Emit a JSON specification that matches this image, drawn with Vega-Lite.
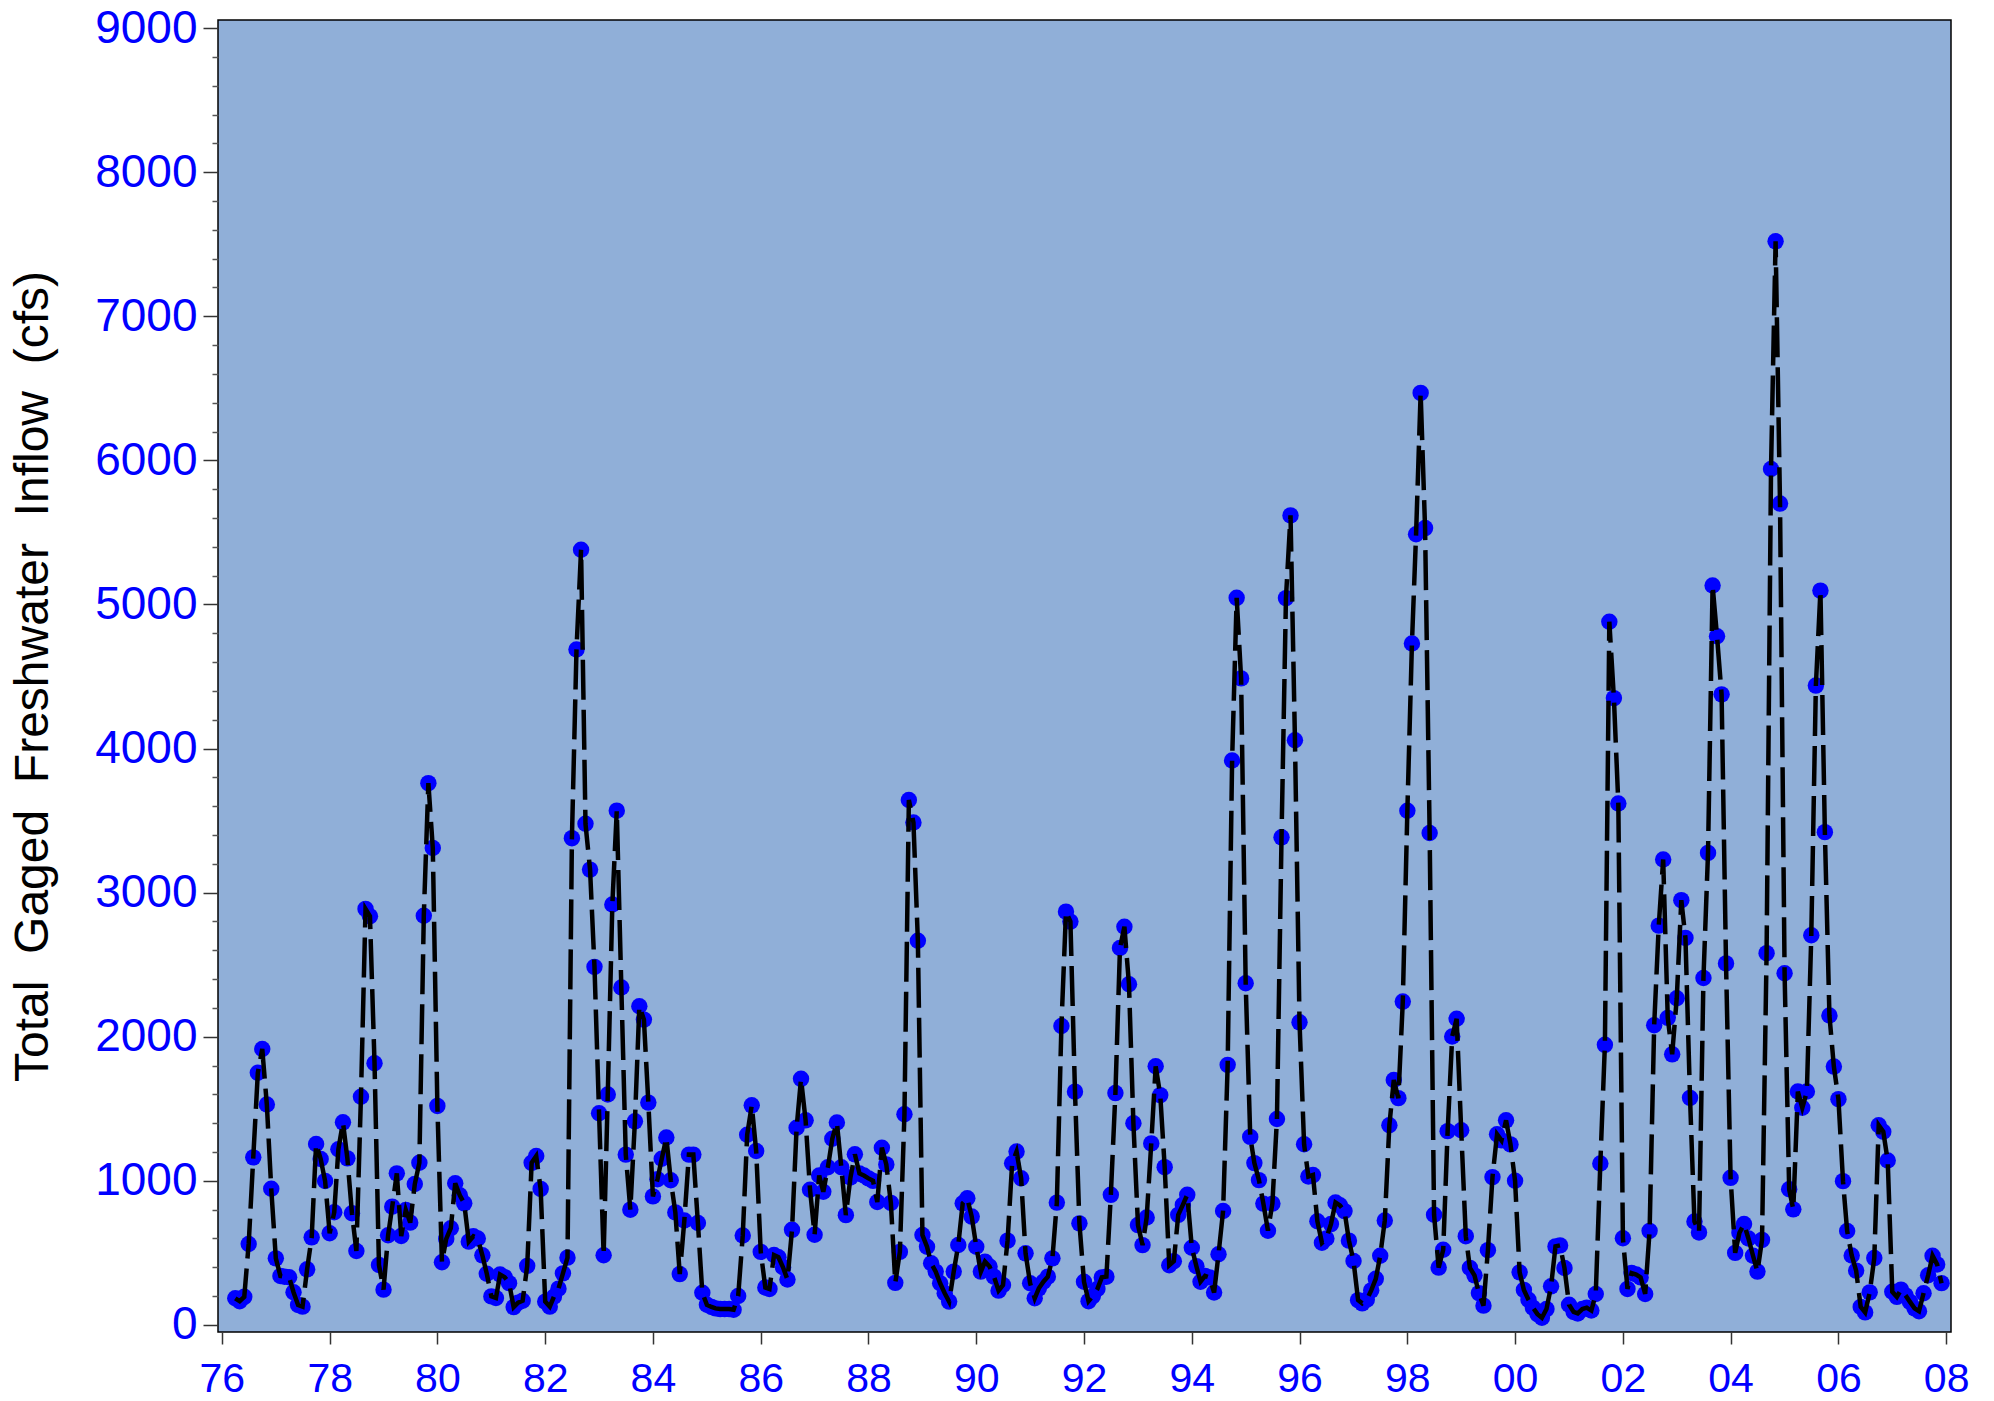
{
"$schema": "https://vega.github.io/schema/vega-lite/v6.json",
"width": 1733, "height": 1312,
"autosize": "none",
"padding": {"left": 218, "top": 20, "right": 43, "bottom": 69},
"background": "white",
"config": {
 "view": {"fill": "#90AFD8", "stroke": "#000000", "strokeWidth": 1.5},
 "axis": {"grid": false, "domain": false, "labelFont": "Liberation Sans", "titleFont": "Liberation Sans"}
},
"data": {"values": [
{"d":"1976-04","v":185},{"d":"1976-05","v":165},{"d":"1976-06","v":195},{"d":"1976-07","v":562},{"d":"1976-08","v":1163},{"d":"1976-09","v":1750},{"d":"1976-10","v":1915},{"d":"1976-11","v":1530},{"d":"1976-12","v":945},
{"d":"1977-01","v":462},{"d":"1977-02","v":340},{"d":"1977-03","v":335},{"d":"1977-04","v":331},{"d":"1977-05","v":227},{"d":"1977-06","v":139},{"d":"1977-07","v":127},{"d":"1977-08","v":386},{"d":"1977-09","v":608},{"d":"1977-10","v":1256},{"d":"1977-11","v":1152},{"d":"1977-12","v":999},
{"d":"1978-01","v":636},{"d":"1978-02","v":782},{"d":"1978-03","v":1219},{"d":"1978-04","v":1406},{"d":"1978-05","v":1156},{"d":"1978-06","v":775},{"d":"1978-07","v":513},{"d":"1978-08","v":1584},{"d":"1978-09","v":2887},{"d":"1978-10","v":2836},{"d":"1978-11","v":1816},{"d":"1978-12","v":416},
{"d":"1979-01","v":245},{"d":"1979-02","v":622},{"d":"1979-03","v":821},{"d":"1979-04","v":1052},{"d":"1979-05","v":617},{"d":"1979-06","v":798},{"d":"1979-07","v":710},{"d":"1979-08","v":978},{"d":"1979-09","v":1126},{"d":"1979-10","v":2840},{"d":"1979-11","v":3760},{"d":"1979-12","v":3310},
{"d":"1980-01","v":1520},{"d":"1980-02","v":435},{"d":"1980-03","v":597},{"d":"1980-04","v":671},{"d":"1980-05","v":983},{"d":"1980-06","v":900},{"d":"1980-07","v":844},{"d":"1980-08","v":578},{"d":"1980-09","v":615},{"d":"1980-10","v":600},{"d":"1980-11","v":483},{"d":"1980-12","v":355},
{"d":"1981-01","v":198},{"d":"1981-02","v":187},{"d":"1981-03","v":350},{"d":"1981-04","v":332},{"d":"1981-05","v":290},{"d":"1981-06","v":124},{"d":"1981-07","v":155},{"d":"1981-08","v":168},{"d":"1981-09","v":410},{"d":"1981-10","v":1125},{"d":"1981-11","v":1172},{"d":"1981-12","v":944},
{"d":"1982-01","v":162},{"d":"1982-02","v":127},{"d":"1982-03","v":196},{"d":"1982-04","v":252},{"d":"1982-05","v":358},{"d":"1982-06","v":467},{"d":"1982-07","v":3378},{"d":"1982-08","v":4687},{"d":"1982-09","v":5380},{"d":"1982-10","v":3478},{"d":"1982-11","v":3160},{"d":"1982-12","v":2485},
{"d":"1983-01","v":1469},{"d":"1983-02","v":484},{"d":"1983-03","v":1599},{"d":"1983-04","v":2918},{"d":"1983-05","v":3569},{"d":"1983-06","v":2342},{"d":"1983-07","v":1182},{"d":"1983-08","v":800},{"d":"1983-09","v":1413},{"d":"1983-10","v":2212},{"d":"1983-11","v":2119},{"d":"1983-12","v":1543},
{"d":"1984-01","v":892},{"d":"1984-02","v":1011},{"d":"1984-03","v":1153},{"d":"1984-04","v":1301},{"d":"1984-05","v":1004},{"d":"1984-06","v":781},{"d":"1984-07","v":353},{"d":"1984-08","v":725},{"d":"1984-09","v":1182},{"d":"1984-10","v":1182},{"d":"1984-11","v":707},{"d":"1984-12","v":223},
{"d":"1985-01","v":140},{"d":"1985-02","v":125},{"d":"1985-03","v":115},{"d":"1985-04","v":110},{"d":"1985-05","v":110},{"d":"1985-06","v":110},{"d":"1985-07","v":105},{"d":"1985-08","v":201},{"d":"1985-09","v":621},{"d":"1985-10","v":1320},{"d":"1985-11","v":1524},{"d":"1985-12","v":1207},
{"d":"1986-01","v":507},{"d":"1986-02","v":260},{"d":"1986-03","v":250},{"d":"1986-04","v":485},{"d":"1986-05","v":470},{"d":"1986-06","v":400},{"d":"1986-07","v":315},{"d":"1986-08","v":660},{"d":"1986-09","v":1368},{"d":"1986-10","v":1708},{"d":"1986-11","v":1420},{"d":"1986-12","v":938},
{"d":"1987-01","v":626},{"d":"1987-02","v":1037},{"d":"1987-03","v":924},{"d":"1987-04","v":1094},{"d":"1987-05","v":1292},{"d":"1987-06","v":1405},{"d":"1987-07","v":1094},{"d":"1987-08","v":762},{"d":"1987-09","v":1023},{"d":"1987-10","v":1184},{"d":"1987-11","v":1051},{"d":"1987-12","v":1037},
{"d":"1988-01","v":1017},{"d":"1988-02","v":1000},{"d":"1988-03","v":853},{"d":"1988-04","v":1230},{"d":"1988-05","v":1114},{"d":"1988-06","v":847},{"d":"1988-07","v":292},{"d":"1988-08","v":507},{"d":"1988-09","v":1462},{"d":"1988-10","v":3643},{"d":"1988-11","v":3487},{"d":"1988-12","v":2666},
{"d":"1989-01","v":624},{"d":"1989-02","v":543},{"d":"1989-03","v":428},{"d":"1989-04","v":370},{"d":"1989-05","v":289},{"d":"1989-06","v":220},{"d":"1989-07","v":162},{"d":"1989-08","v":370},{"d":"1989-09","v":555},{"d":"1989-10","v":844},{"d":"1989-11","v":879},{"d":"1989-12","v":752},
{"d":"1990-01","v":543},{"d":"1990-02","v":370},{"d":"1990-03","v":439},{"d":"1990-04","v":405},{"d":"1990-05","v":335},{"d":"1990-06","v":238},{"d":"1990-07","v":277},{"d":"1990-08","v":585},{"d":"1990-09","v":1122},{"d":"1990-10","v":1203},{"d":"1990-11","v":1018},{"d":"1990-12","v":497},
{"d":"1991-01","v":289},{"d":"1991-02","v":185},{"d":"1991-03","v":254},{"d":"1991-04","v":300},{"d":"1991-05","v":335},{"d":"1991-06","v":462},{"d":"1991-07","v":849},{"d":"1991-08","v":2075},{"d":"1991-09","v":2868},{"d":"1991-10","v":2799},{"d":"1991-11","v":1619},{"d":"1991-12","v":705},
{"d":"1992-01","v":300},{"d":"1992-02","v":165},{"d":"1992-03","v":200},{"d":"1992-04","v":250},{"d":"1992-05","v":330},{"d":"1992-06","v":335},{"d":"1992-07","v":903},{"d":"1992-08","v":1609},{"d":"1992-09","v":2616},{"d":"1992-10","v":2763},{"d":"1992-11","v":2364},{"d":"1992-12","v":1400},
{"d":"1993-01","v":693},{"d":"1993-02","v":554},{"d":"1993-03","v":746},{"d":"1993-04","v":1260},{"d":"1993-05","v":1795},{"d":"1993-06","v":1595},{"d":"1993-07","v":1095},{"d":"1993-08","v":414},{"d":"1993-09","v":442},{"d":"1993-10","v":764},{"d":"1993-11","v":833},{"d":"1993-12","v":903},
{"d":"1994-01","v":536},{"d":"1994-02","v":407},{"d":"1994-03","v":300},{"d":"1994-04","v":340},{"d":"1994-05","v":330},{"d":"1994-06","v":225},{"d":"1994-07","v":491},{"d":"1994-08","v":791},{"d":"1994-09","v":1805},{"d":"1994-10","v":3917},{"d":"1994-11","v":5046},{"d":"1994-12","v":4487},
{"d":"1995-01","v":2371},{"d":"1995-02","v":1305},{"d":"1995-03","v":1123},{"d":"1995-04","v":1005},{"d":"1995-05","v":842},{"d":"1995-06","v":654},{"d":"1995-07","v":842},{"d":"1995-08","v":1429},{"d":"1995-09","v":3384},{"d":"1995-10","v":5044},{"d":"1995-11","v":5618},{"d":"1995-12","v":4058},
{"d":"1996-01","v":2100},{"d":"1996-02","v":1254},{"d":"1996-03","v":1030},{"d":"1996-04","v":1040},{"d":"1996-05","v":720},{"d":"1996-06","v":570},{"d":"1996-07","v":600},{"d":"1996-08","v":700},{"d":"1996-09","v":850},{"d":"1996-10","v":830},{"d":"1996-11","v":790},{"d":"1996-12","v":585},
{"d":"1997-01","v":444},{"d":"1997-02","v":172},{"d":"1997-03","v":150},{"d":"1997-04","v":175},{"d":"1997-05","v":240},{"d":"1997-06","v":320},{"d":"1997-07","v":480},{"d":"1997-08","v":725},{"d":"1997-09","v":1386},{"d":"1997-10","v":1700},{"d":"1997-11","v":1574},{"d":"1997-12","v":2244},
{"d":"1998-01","v":3568},{"d":"1998-02","v":4729},{"d":"1998-03","v":5487},{"d":"1998-04","v":6468},{"d":"1998-05","v":5530},{"d":"1998-06","v":3414},{"d":"1998-07","v":765},{"d":"1998-08","v":398},{"d":"1998-09","v":522},{"d":"1998-10","v":1345},{"d":"1998-11","v":2002},{"d":"1998-12","v":2125},
{"d":"1999-01","v":1351},{"d":"1999-02","v":616},{"d":"1999-03","v":396},{"d":"1999-04","v":344},{"d":"1999-05","v":221},{"d":"1999-06","v":134},{"d":"1999-07","v":519},{"d":"1999-08","v":1026},{"d":"1999-09","v":1323},{"d":"1999-10","v":1281},{"d":"1999-11","v":1420},{"d":"1999-12","v":1253},
{"d":"2000-01","v":1001},{"d":"2000-02","v":365},{"d":"2000-03","v":243},{"d":"2000-04","v":175},{"d":"2000-05","v":120},{"d":"2000-06","v":75},{"d":"2000-07","v":50},{"d":"2000-08","v":110},{"d":"2000-09","v":268},{"d":"2000-10","v":545},{"d":"2000-11","v":552},{"d":"2000-12","v":395},
{"d":"2001-01","v":140},{"d":"2001-02","v":90},{"d":"2001-03","v":80},{"d":"2001-04","v":110},{"d":"2001-05","v":120},{"d":"2001-06","v":100},{"d":"2001-07","v":215},{"d":"2001-08","v":1120},{"d":"2001-09","v":1944},{"d":"2001-10","v":4880},{"d":"2001-11","v":4350},{"d":"2001-12","v":3619},
{"d":"2002-01","v":602},{"d":"2002-02","v":250},{"d":"2002-03","v":360},{"d":"2002-04","v":350},{"d":"2002-05","v":330},{"d":"2002-06","v":215},{"d":"2002-07","v":653},{"d":"2002-08","v":2080},{"d":"2002-09","v":2771},{"d":"2002-10","v":3230},{"d":"2002-11","v":2131},{"d":"2002-12","v":1878},
{"d":"2003-01","v":2267},{"d":"2003-02","v":2948},{"d":"2003-03","v":2686},{"d":"2003-04","v":1576},{"d":"2003-05","v":718},{"d":"2003-06","v":642},{"d":"2003-07","v":2408},{"d":"2003-08","v":3276},{"d":"2003-09","v":5132},{"d":"2003-10","v":4779},{"d":"2003-11","v":4376},{"d":"2003-12","v":2509},
{"d":"2004-01","v":1021},{"d":"2004-02","v":500},{"d":"2004-03","v":640},{"d":"2004-04","v":700},{"d":"2004-05","v":600},{"d":"2004-06","v":480},{"d":"2004-07","v":370},{"d":"2004-08","v":590},{"d":"2004-09","v":2580},{"d":"2004-10","v":5940},{"d":"2004-11","v":7520},{"d":"2004-12","v":5700},
{"d":"2005-01","v":2441},{"d":"2005-02","v":942},{"d":"2005-03","v":802},{"d":"2005-04","v":1620},{"d":"2005-05","v":1507},{"d":"2005-06","v":1620},{"d":"2005-07","v":2704},{"d":"2005-08","v":4437},{"d":"2005-09","v":5096},{"d":"2005-10","v":3420},{"d":"2005-11","v":2147},{"d":"2005-12","v":1793},
{"d":"2006-01","v":1567},{"d":"2006-02","v":998},{"d":"2006-03","v":652},{"d":"2006-04","v":482},{"d":"2006-05","v":377},{"d":"2006-06","v":125},{"d":"2006-07","v":87},{"d":"2006-08","v":226},{"d":"2006-09","v":464},{"d":"2006-10","v":1386},{"d":"2006-11","v":1341},{"d":"2006-12","v":1141},
{"d":"2007-01","v":230},{"d":"2007-02","v":195},{"d":"2007-03","v":245},{"d":"2007-04","v":205},{"d":"2007-05","v":160},{"d":"2007-06","v":115},{"d":"2007-07","v":95},{"d":"2007-08","v":220},{"d":"2007-09","v":345},{"d":"2007-10","v":480},{"d":"2007-11","v":420},{"d":"2007-12","v":290}
]},
"encoding": {
 "x": {"field": "d", "type": "temporal",
  "scale": {"type": "utc", "domain": [{"year": 1975, "month": 12, "date": 6, "utc": true}, {"year": 2008, "month": 2, "date": 3, "utc": true}]},
  "axis": {"title": null, "labelExpr": "utcFormat(datum.value, '%y')",
   "values": [{"year":1976,"utc":true},{"year":1978,"utc":true},{"year":1980,"utc":true},{"year":1982,"utc":true},{"year":1984,"utc":true},{"year":1986,"utc":true},{"year":1988,"utc":true},{"year":1990,"utc":true},{"year":1992,"utc":true},{"year":1994,"utc":true},{"year":1996,"utc":true},{"year":1998,"utc":true},{"year":2000,"utc":true},{"year":2002,"utc":true},{"year":2004,"utc":true},{"year":2006,"utc":true},{"year":2008,"utc":true}],
   "tickSize": 12, "tickWidth": 1.5, "tickColor": "#333333", "labelPadding": 15, "labelFontSize": 41, "labelColor": "#0000FF", "labelFlush": false, "labelOverlap": false}}
},
"layer": [
 {"mark": {"type": "point", "filled": true, "color": "#0000FF", "size": 270, "opacity": 1, "strokeWidth": 0},
  "encoding": {"y": {"field": "v", "type": "quantitative", "scale": {"domain": [-49, 9056], "nice": false, "zero": false},
   "axis": {"values": [0,1000,2000,3000,4000,5000,6000,7000,8000,9000], "format": "d", "tickSize": 15, "tickWidth": 1.5, "tickColor": "#333333", "labelPadding": 6, "labelFontSize": 46, "labelColor": "#0000FF",
    "title": "Total\u00a0 Gaged\u00a0 Freshwater\u00a0 Inflow\u00a0 (cfs)", "titleFontSize": 48, "titleFontWeight": "normal", "titleColor": "#000000", "titleAngle": -90, "titleBaseline": "bottom", "titleX": -161, "titleY": 656}}}},
 {"mark": {"type": "line", "color": "#000000", "strokeWidth": 4.5, "strokeDash": [40, 10]},
  "encoding": {"y": {"field": "v", "type": "quantitative", "scale": {"domain": [-49, 9056], "nice": false, "zero": false},
   "axis": {"orient": "left", "values": [200,400,600,800,1200,1400,1600,1800,2200,2400,2600,2800,3200,3400,3600,3800,4200,4400,4600,4800,5200,5400,5600,5800,6200,6400,6600,6800,7200,7400,7600,7800,8200,8400,8600,8800], "labels": false, "title": null, "tickSize": 6, "tickWidth": 1.5, "tickColor": "#555555"}}}}
],
"resolve": {"axis": {"y": "independent"}}
}
